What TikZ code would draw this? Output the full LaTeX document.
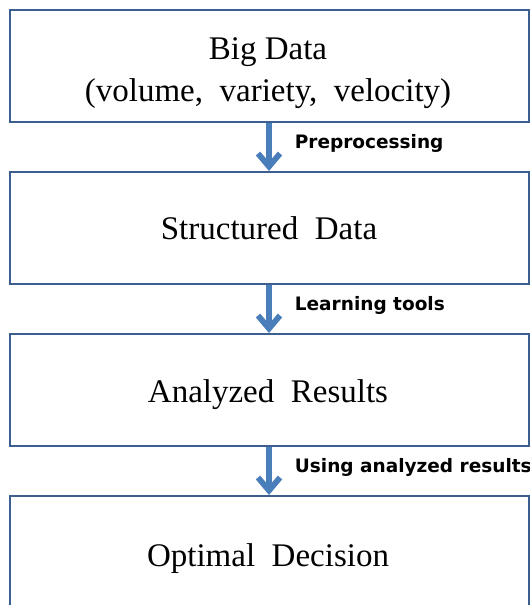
\documentclass[tikz,border=0pt]{standalone}
\usepackage{fontspec}
\setmainfont{Liberation Serif}
\newfontfamily\labelfont{DejaVu Sans}
\usetikzlibrary{arrows.meta}
\definecolor{boxline}{RGB}{60,95,143}
\definecolor{flowblue}{RGB}{74,126,187}
\begin{document}
\begin{tikzpicture}[x=1pt,y=-1pt,
  stage/.style={draw=boxline, line width=2pt, fill=white, rectangle,
    minimum width=519pt, minimum height=112pt, inner sep=0pt},
  stagetext/.style={anchor=base, inner sep=0pt, font=\fontsize{33}{41}\selectfont},
  flow/.style={draw=flowblue, line width=5.8pt,
    -{Straight Barb[length=13pt, width=22pt, line cap=butt]}},
  steplabel/.style={font=\labelfont\bfseries\fontsize{18.5}{20}\selectfont,
    anchor=base west, inner sep=0pt, xshift=23pt, yshift=-1pt}]
  \clip (0,0) rectangle (530,605);
  \fill[white] (0,0) rectangle (530,605);

  % the four stages of the pipeline
  \node[stage] (bigdata)    at (269,66)  {};
  \node[stage] (structured) at (269,228) {};
  \node[stage] (analyzed)   at (269,390) {};
  \node[stage] (decision)   at (269,552) {};

  % stage captions, set on their baselines
  \node[stagetext] (bigdata-a)    at (268,59)  {Big Data};
  \node[stagetext] (bigdata-b)    at (268,101) {(volume,\ \ variety,\ \ velocity)};
  \node[stagetext] (structured-t) at (269,239) {Structured\ \ Data};
  \node[stagetext] (analyzed-t)   at (268,402) {Analyzed\ \ Results};
  \node[stagetext] (decision-t)   at (268,566) {Optimal\ \ Decision};

  % transitions between stages
  \draw[flow] (bigdata.south) -- node[steplabel] (prep) {Preprocessing} (structured.north);
  \draw[flow] (structured.south) -- node[steplabel] (learn) {Learning tools} (analyzed.north);
  \draw[flow] (analyzed.south) -- node[steplabel] (use) {Using analyzed results} (decision.north);
\end{tikzpicture}
\end{document}
